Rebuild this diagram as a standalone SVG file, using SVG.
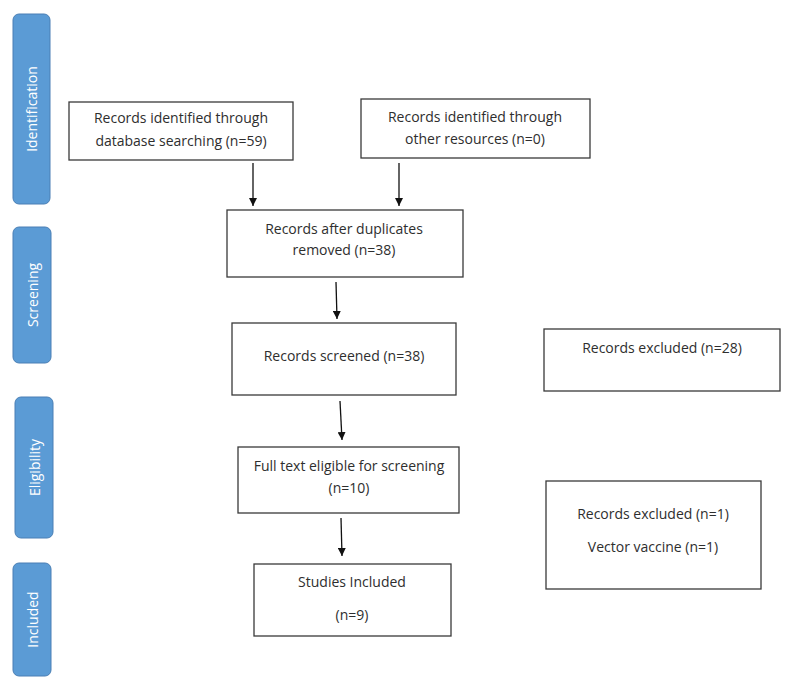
<svg xmlns="http://www.w3.org/2000/svg" width="786" height="685" viewBox="0 0 786 685">
<defs>
<style>
.side{fill:#5b9bd5;stroke:#4a7fb5;stroke-width:1}
.st{fill:#ffffff;font-family:"Open Sans","Noto Sans",sans-serif;font-size:14px;text-anchor:middle;dominant-baseline:central}
.box{fill:#ffffff;stroke:#3a3a3a;stroke-width:1.3}
.t{fill:#2e2e2e;font-family:"Open Sans","Noto Sans",sans-serif;font-size:14px;text-anchor:middle;dominant-baseline:central}
.ar{stroke:#111;stroke-width:1.3;fill:none;marker-end:url(#ah)}
</style>
<marker id="ah" viewBox="0 0 10 10" refX="10" refY="5" markerWidth="8" markerHeight="8" markerUnits="userSpaceOnUse" orient="auto">
<path d="M0,0 L10,5 L0,10 Z" fill="#111"/>
</marker>
</defs>
<rect width="786" height="685" fill="#ffffff"/>
<g id="phase-identification"><rect class="side" x="13" y="14" width="37" height="190" rx="6"/><text class="st" transform="translate(31.5,109) rotate(-90)">Identification</text></g>
<g id="phase-screening"><rect class="side" x="13" y="227" width="38" height="136" rx="6"/><text class="st" transform="translate(32,295) rotate(-90)">Screening</text></g>
<g id="phase-eligibility"><rect class="side" x="15" y="397" width="38" height="141" rx="6"/><text class="st" transform="translate(34,467.5) rotate(-90)">Eligibility</text></g>
<g id="phase-included"><rect class="side" x="13" y="563" width="38" height="113" rx="6"/><text class="st" transform="translate(32,619.5) rotate(-90)">Included</text></g>

<g id="n-database"><rect class="box" x="69" y="102" width="224" height="58"/><text class="t" x="181" y="117">Records identified through</text><text class="t" x="181" y="140">database searching (n=59)</text></g>
<g id="n-other"><rect class="box" x="361" y="99" width="229" height="59"/><text class="t" x="475" y="116">Records identified through</text><text class="t" x="475" y="138">other resources (n=0)</text></g>
<g id="n-dedup"><rect class="box" x="227" y="210" width="236" height="67"/><text class="t" x="344" y="228">Records after duplicates</text><text class="t" x="344" y="249">removed (n=38)</text></g>
<g id="n-screened"><rect class="box" x="232" y="323" width="224" height="72"/><text class="t" x="344" y="355">Records screened (n=38)</text></g>
<g id="n-excluded28"><rect class="box" x="544" y="329" width="236" height="62"/><text class="t" x="662" y="347">Records excluded (n=28)</text></g>
<g id="n-fulltext"><rect class="box" x="238" y="447" width="221" height="66"/><text class="t" x="349" y="465">Full text eligible for screening</text><text class="t" x="349" y="487">(n=10)</text></g>
<g id="n-excluded1"><rect class="box" x="546" y="481" width="215" height="108"/><text class="t" x="653" y="513">Records excluded (n=1)</text><text class="t" x="653" y="546">Vector vaccine (n=1)</text></g>
<g id="n-included"><rect class="box" x="254" y="564" width="197" height="72"/><text class="t" x="352" y="581">Studies Included</text><text class="t" x="352" y="614">(n=9)</text></g>

<g id="connectors">
<line class="ar" x1="253" y1="163" x2="253" y2="206"/>
<line class="ar" x1="399" y1="163" x2="399" y2="206"/>
<line class="ar" x1="336" y1="282" x2="337" y2="319"/>
<line class="ar" x1="340" y1="401" x2="342" y2="440"/>
<line class="ar" x1="341" y1="518" x2="342" y2="556"/>
</g>
</svg>
